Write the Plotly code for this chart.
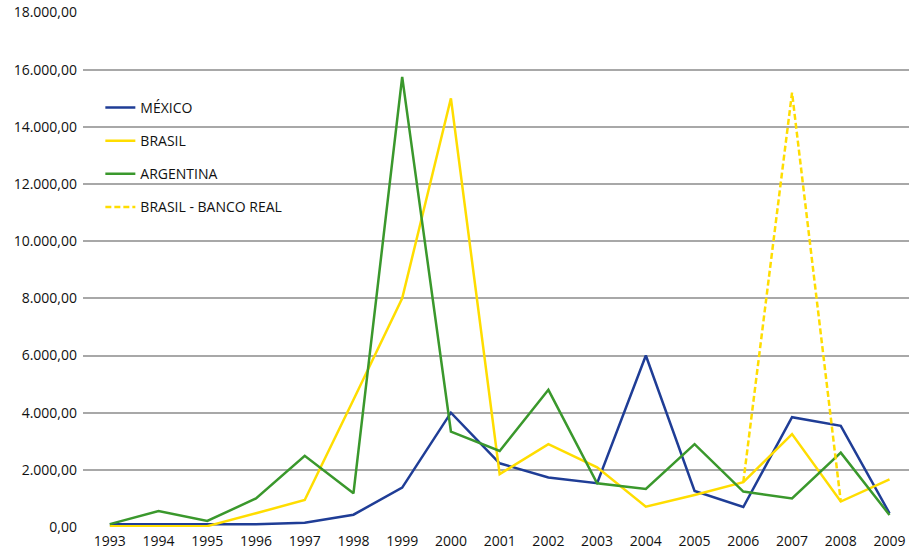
import plotly.graph_objects as go

years = list(range(1993, 2010))
mexico = [100, 100, 100, 100, 150, 430, 1380, 4000, 2230, 1730, 1530, 6000, 1260, 700, 3840, 3540, 480]
brasil = [30, 30, 30, 480, 945, 4450, 8000, 15000, 1850, 2900, 2090, 710, 1120, 1570, 3250, 890, 1670]
argentina = [100, 560, 210, 1000, 2490, 1180, 15750, 3340, 2660, 4800, 1530, 1330, 2900, 1240, 1000, 2600, 420]
banco_real = [None] * 13 + [1570, 15200, 890, None]

names = ["MÉXICO", "BRASIL", "ARGENTINA", "BRASIL - BANCO REAL"]
colors = ["#1f3d96", "#ffdd00", "#3a982c", "#ffdd00"]
y_ticks = list(range(0, 18001, 2000))

fig = go.Figure()
series = [mexico, brasil, argentina, banco_real]
for i, (nm, vals, col) in enumerate(zip(names, series, colors)):
    fig.add_trace(go.Scatter(
        x=years, y=vals, name=nm, mode="lines",
        line=dict(color=col, width=2.5, dash="6px,3px" if i == 3 else "solid"),
        legendgroup=f"g{i}", connectgaps=False,
    ))

fig.update_layout(
    width=909, height=559,
    margin=dict(l=83, r=0, t=12, b=32, autoexpand=False),
    paper_bgcolor="white", plot_bgcolor="white",
    font=dict(family="Open Sans, Noto Sans, sans-serif", size=14, color="#111111"),
    separators=",.",
    showlegend=True,
    legend=dict(x=0.021, y=0.845, xanchor="left", yanchor="top",
                bgcolor="rgba(0,0,0,0)", traceorder="grouped", tracegroupgap=12,
                font=dict(size=14)),
    xaxis=dict(range=[1992.45, 2009.4], tickmode="array", tickvals=years,
               ticktext=[str(y) for y in years], showgrid=False, zeroline=False,
               showline=False, ticks="", tickfont=dict(size=14), automargin=False,
               ticklabelstandoff=4),
    yaxis=dict(range=[0, 18020], tickmode="array", tickvals=y_ticks, tickformat=",.2f",
               showgrid=True, gridcolor="#a8a8a8", gridwidth=1.5, zeroline=False,
               showline=False, ticks="", tickfont=dict(size=14), ticklabelstandoff=5,
               automargin=False),
)

fig.write_html("out.html", config={"displayModeBar": False},
               post_script="document.body.style.margin='0';")
